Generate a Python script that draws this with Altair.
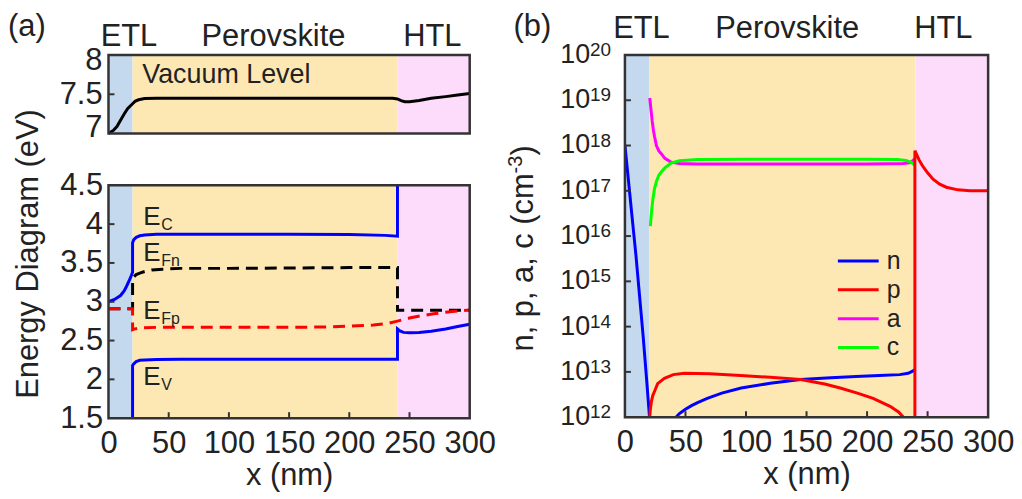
import altair as alt
import pandas as pd

FONT = "Liberation Sans"
TXT = "#222222"
FRAME = "#333333"

# ---------------- shared layer regions ----------------
reg_start = [0, 20, 240]
reg_end = [20, 240, 300]
reg_color = ["#c5d9ee", "#fde8b4", "#fddbfb"]
reg_name = ["ETL", "Perovskite", "HTL"]
hdr_a_x = [17, 137, 269]
hdr_b_x = [13.6, 134, 263]
x_ticks = [0, 50, 100, 150, 200, 250, 300]

# ---------------- panel (a) top: vacuum level ----------------
vac_x = [0, 4, 7, 10, 13, 16, 20, 22, 25, 30, 40, 60, 100, 150, 200, 236, 240, 243, 246, 250, 258, 268, 280, 290, 300]
vac_y = [7.00, 7.04, 7.09, 7.17, 7.25, 7.32, 7.38, 7.41, 7.43, 7.445, 7.45, 7.45, 7.45, 7.45, 7.45, 7.45, 7.44, 7.42, 7.405, 7.405, 7.42, 7.45, 7.47, 7.49, 7.51]
yt_ticks = [7, 7.5, 8]

# ---------------- panel (a) bottom: band diagram ----------------
ec_x = [0, 5, 10, 13, 15, 18, 20, 20, 21, 23, 26, 30, 40, 60, 100, 150, 200, 230, 240, 240]
ec_y = [3.00, 3.03, 3.08, 3.14, 3.20, 3.30, 3.38, 3.76, 3.80, 3.83, 3.85, 3.86, 3.87, 3.87, 3.87, 3.87, 3.865, 3.855, 3.845, 4.50]
ev_x = [20, 20, 21, 23, 26, 30, 40, 60, 100, 150, 200, 240, 240, 242, 245, 250, 258, 268, 280, 290, 300]
ev_y = [1.50, 2.18, 2.20, 2.23, 2.245, 2.25, 2.255, 2.26, 2.26, 2.26, 2.26, 2.26, 2.65, 2.625, 2.605, 2.60, 2.605, 2.62, 2.65, 2.68, 2.71]
efn_x = [0, 20, 20, 21, 23, 26, 30, 36, 45, 60, 100, 150, 200, 240, 240, 300]
efn_y = [2.91, 2.91, 3.30, 3.32, 3.35, 3.37, 3.39, 3.41, 3.42, 3.43, 3.43, 3.435, 3.44, 3.44, 2.89, 2.89]
efp_x = [0, 20, 20, 22, 25, 30, 40, 60, 100, 150, 180, 200, 220, 232, 240, 250, 260, 270, 280, 290, 300]
efp_y = [2.91, 2.91, 2.64, 2.65, 2.66, 2.665, 2.67, 2.67, 2.67, 2.67, 2.675, 2.685, 2.70, 2.72, 2.75, 2.79, 2.82, 2.845, 2.865, 2.88, 2.895]
ann_x = [28.9, 28.9, 28.9, 28.9]
ann_y = [3.99, 3.52, 2.774, 1.93]
ann_sub = ["C", "Fn", "Fp", "V"]
ya_ticks = [1.5, 2, 2.5, 3, 3.5, 4, 4.5]

# ---------------- panel (b): carrier / ion densities ----------------
n1_x = [0, 3, 6, 9, 12, 15, 18, 20.3, 20.8]
n1_v = [1.0e18, 1.6e17, 2.5e16, 4.0e15, 5.0e14, 6.3e13, 6.3e12, 1.0e12, 1.0e10]
n2_x = [41.0, 42.2, 45, 50, 55, 60, 68, 80, 96, 120, 145, 170, 191, 210, 227, 234, 238, 240]
n2_v = [7e11, 1.0e12, 1.2e12, 1.5e12, 1.8e12, 2.1e12, 2.6e12, 3.4e12, 4.4e12, 5.6e12, 6.8e12, 7.4e12, 7.9e12, 8.3e12, 8.7e12, 9.3e12, 1.05e13, 1.15e13]
p1_x = [20.2, 20.5, 21, 22, 23, 24.4, 27, 32.6, 40, 49, 70, 95.6, 120, 145, 165, 177.8, 192, 205, 219, 226, 230, 233]
p1_v = [5e11, 1.0e12, 1.5e12, 2.3e12, 3.0e12, 3.7e12, 5.5e12, 7.2e12, 8.7e12, 9.3e12, 9.1e12, 8.3e12, 7.6e12, 6.8e12, 5.4e12, 4.4e12, 3.4e12, 2.6e12, 1.74e12, 1.3e12, 1.0e12, 7e11]
p2_x = [239.5, 239.5, 241, 243, 246, 250, 254.5, 260, 265.5, 275, 285, 300]
p2_v = [1e11, 7.7e17, 6.3e17, 4.8e17, 3.5e17, 2.5e17, 1.8e17, 1.4e17, 1.2e17, 1.05e17, 1.0e17, 1.0e17]
a_x = [20.5, 21.5, 22.5, 23.5, 24.4, 26, 28, 30, 33, 38, 45, 60, 100, 150, 200, 230, 236, 239, 240]
a_v = [1.12e19, 6.3e18, 3.5e18, 2.2e18, 1.6e18, 1.0e18, 7.6e17, 6.6e17, 5.2e17, 4.3e17, 4.0e17, 3.9e17, 3.9e17, 3.9e17, 3.9e17, 4.0e17, 4.2e17, 5.0e17, 5.2e17]
c_x = [21, 22, 23, 24.4, 26, 28, 30, 33, 38, 45, 60, 100, 150, 200, 225, 232, 236, 240]
c_v = [1.66e16, 3.5e16, 6.3e16, 1.1e17, 1.6e17, 2.2e17, 2.6e17, 3.2e17, 4.1e17, 4.6e17, 4.9e17, 5.0e17, 5.0e17, 5.0e17, 4.9e17, 4.7e17, 4.3e17, 3.6e17]
yb_exp = [12, 13, 14, 15, 16, 17, 18, 19, 20]
legend_labels = ["n", "p", "a", "c"]
legend_colors = ["#0000ff", "#ff0000", "#ff00ff", "#00ff00"]

# ---------------- sizes ----------------
WA, HA = 363, 365          # whole panel (a) (two stacked plots)
TOP0, TOP1 = 0, 79         # vacuum-level plot rows
BOT0, BOT1 = 131, 365      # band-diagram plot rows
WB, HBP = 365, 364

xs = alt.Scale(domain=[0, 300], nice=False, zero=False)
x_axis = alt.Axis(values=x_ticks, title="x (nm)", labelFlush=False, labelOverlap=False,
                  labelPadding=11, titlePadding=2)


def X(field):
    return alt.X(field, type="quantitative", scale=xs, axis=x_axis)


def one():
    return pd.DataFrame({"k": [0]})


def bands(y0, y1):
    df = pd.DataFrame({"x0": reg_start, "x1": reg_end, "fill": reg_color})
    return alt.Chart(df).mark_rect().encode(
        x=X("x0"), x2="x1:Q", y=alt.value(y0), y2=alt.value(y1),
        color=alt.Color("fill:N", scale=None))


def line(xv, yv, color, ys, yaxis, dash=None):
    df = pd.DataFrame({"x": xv, "y": yv, "i": list(range(len(xv)))})
    kw = dict(color=color, strokeWidth=3, clip=True)
    if dash:
        kw["strokeDash"] = dash
    return alt.Chart(df).mark_line(**kw).encode(
        x=X("x"), y=alt.Y("y:Q", scale=ys, axis=yaxis), order="i:Q")


def frame(y0, y1, w):
    return alt.Chart(one()).mark_rect(fillOpacity=0, stroke=FRAME, strokeWidth=2.5).encode(
        x=alt.value(0), x2=alt.value(w), y=alt.value(y0), y2=alt.value(y1))


def xticks(ybot):
    df = pd.DataFrame({"v": x_ticks[1:-1]})
    return alt.Chart(df).mark_rule(color=FRAME, strokeWidth=2).encode(
        x=X("v"), y=alt.value(ybot), y2=alt.value(ybot - 6))


def yticks(vals, ys, yaxis):
    df = pd.DataFrame({"v": vals})
    return alt.Chart(df).mark_rule(color=FRAME, strokeWidth=2).encode(
        y=alt.Y("v:Q", scale=ys, axis=yaxis), x=alt.value(0), x2=alt.value(6))


def headers(xv, yoff):
    df = pd.DataFrame({"x": xv, "t": reg_name})
    return alt.Chart(df).mark_text(font=FONT, fontSize=31, color=TXT, align="center",
                                   baseline="alphabetic").encode(
        x=X("x"), y=alt.value(yoff), text="t:N")


def label(txt, x, y, size=31, align="left", angle=0, baseline="alphabetic"):
    kw = dict(font=FONT, fontSize=size, color=TXT, align=align, baseline=baseline, text=txt)
    if angle:
        kw["angle"] = angle
    return alt.Chart(one()).mark_text(**kw).encode(x=alt.value(x), y=alt.value(y))


# ---------------- panel (a) top (vacuum level) ----------------
ys_t = alt.Scale(domain=[7, 8], range=[TOP1, TOP0], nice=False, zero=False)
vac_lbl = pd.DataFrame({"x": [28.0], "y": [7.645], "t": ["Vacuum Level"]})
ylab_t = pd.DataFrame({"v": yt_ticks, "t": ["7", "7.5", "8"]})


def tlab(i, dy):
    return alt.Chart(ylab_t.iloc[[i]]).mark_text(
        font=FONT, fontSize=31, color=TXT, align="right", baseline="middle", dy=dy).encode(
        x=alt.value(-6), y=alt.Y("v:Q", scale=ys_t, axis=None), text="t:N")


top_layer = alt.layer(
    bands(TOP0, TOP1),
    line(vac_x, vac_y, "#000000", ys_t, None),
    alt.Chart(vac_lbl).mark_text(font=FONT, fontSize=27, color=TXT, align="left",
                                 baseline="alphabetic").encode(
        x=X("x"), y=alt.Y("y:Q", scale=ys_t, axis=None), text="t:N"),
    yticks([7.5], ys_t, None),
    tlab(0, -6), tlab(1, 1), tlab(2, 6),
    headers(hdr_a_x, TOP0 - 9),
    label("(a)", -101, TOP0 - 19),
    frame(TOP0, TOP1, WA),
)

# ---------------- panel (a) bottom (band diagram) ----------------
ys_b = alt.Scale(domain=[1.5, 4.5], range=[BOT1, BOT0], nice=False, zero=False)
ya_b = alt.Axis(values=ya_ticks, format="~g", title=None, labelPadding=6, labelFlush=False,
                labelOverlap=False, orient="left")
ann_df = pd.DataFrame({"x": ann_x, "y": ann_y, "s": ann_sub})
ann_main = alt.Chart(ann_df).mark_text(font=FONT, fontSize=26, color=TXT, align="left",
                                       baseline="alphabetic", text="E").encode(
    x=X("x"), y=alt.Y("y:Q", scale=ys_b, axis=ya_b))
ann_subm = alt.Chart(ann_df).mark_text(font=FONT, fontSize=16, color=TXT, align="left",
                                       baseline="alphabetic", dx=18, dy=5).encode(
    x=X("x"), y=alt.Y("y:Q", scale=ys_b, axis=ya_b), text="s:N")
bot_layer = alt.layer(
    bands(BOT0, BOT1),
    line(ec_x, ec_y, "#0000ff", ys_b, ya_b),
    line(ev_x, ev_y, "#0000ff", ys_b, ya_b),
    line(efn_x, efn_y, "#000000", ys_b, ya_b, dash=[12, 7]),
    line(efp_x, efp_y, "#ff0000", ys_b, ya_b, dash=[12, 7]),
    ann_main, ann_subm,
    xticks(BOT1),
    yticks(ya_ticks[1:-1], ys_b, ya_b),
    label("Energy Diagram (eV)", -71, BOT0 + 69, align="center", angle=270),
    frame(BOT0, BOT1, WA),
)

panel_a = alt.layer(top_layer, bot_layer).resolve_scale(y="independent").properties(
    width=WA, height=HA)

# ---------------- panel (b) ----------------
ys_l = alt.Scale(type="log", domain=[1e12, 1e20], nice=False)
lab_df = pd.DataFrame({"v": [10.0 ** e for e in yb_exp], "e": [str(e) for e in yb_exp]})
ten = alt.Chart(lab_df).mark_text(font=FONT, fontSize=27, color=TXT, align="right",
                                  baseline="middle", text="10").encode(
    x=alt.value(-35), y=alt.Y("v:Q", scale=ys_l, axis=None))
sup = alt.Chart(lab_df).mark_text(font=FONT, fontSize=19, color=TXT, align="left",
                                  baseline="alphabetic", dy=1).encode(
    x=alt.value(-35), y=alt.Y("v:Q", scale=ys_l, axis=None), text="e:N")

leg_layers = []
for k, (lab, col) in enumerate(zip(legend_labels, legend_colors)):
    yy = 207 + 29 * k
    leg_layers.append(alt.Chart(one()).mark_rule(color=col, strokeWidth=3).encode(
        x=alt.value(214), x2=alt.value(255), y=alt.value(yy)))
    leg_layers.append(label(lab, 263, yy, size=25, baseline="middle"))

panel_b = alt.layer(
    bands(0, HBP),
    line(n1_x, n1_v, "#0000ff", ys_l, None),
    line(n2_x, n2_v, "#0000ff", ys_l, None),
    line(a_x, a_v, "#ff00ff", ys_l, None),
    line(c_x, c_v, "#00ff00", ys_l, None),
    line(p1_x, p1_v, "#ff0000", ys_l, None),
    line(p2_x, p2_v, "#ff0000", ys_l, None),
    *leg_layers,
    ten, sup,
    xticks(HBP),
    yticks([10.0 ** e for e in yb_exp[1:-1]], ys_l, None),
    headers(hdr_b_x, -17),
    label("(b)", -112, -19),
    label("n, p, a, c (cm", -92, 298, angle=270),
    label("-3", -103, 119, size=20, angle=270),
    label(")", -92, 101, angle=270),
    frame(0, HBP, WB),
).properties(width=WB, height=HBP)

chart = alt.hconcat(panel_a, panel_b, spacing=156, bounds="flush").properties(
    padding={"top": 2, "left": 0, "right": 0, "bottom": 0}).configure_view(stroke=None).configure_axis(
    labelFont=FONT, titleFont=FONT, labelFontSize=31, titleFontSize=31,
    labelColor=TXT, titleColor=TXT, titleFontWeight="normal",
    domain=False, ticks=False, grid=False)

chart.save("out.html", embed_options={"renderer": "svg", "actions": False})
